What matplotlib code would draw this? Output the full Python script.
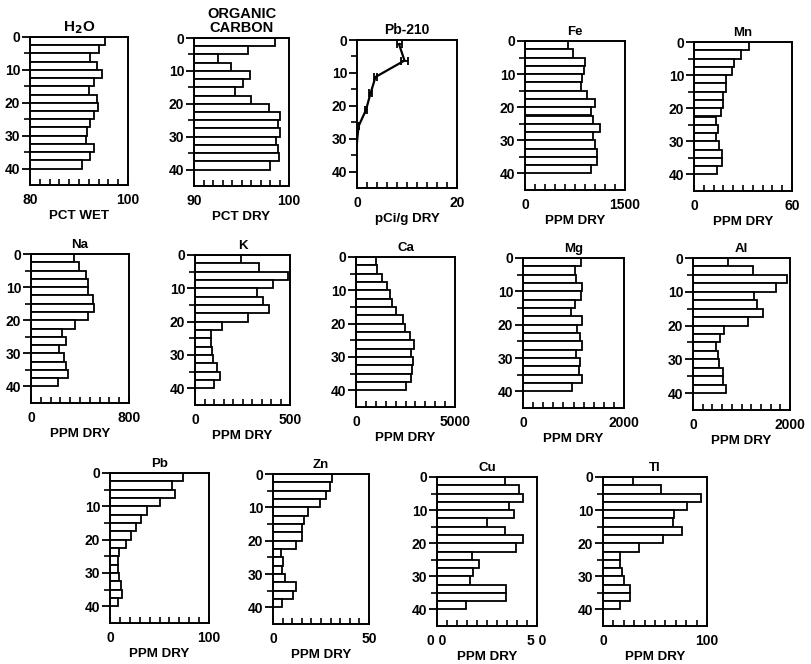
import matplotlib
matplotlib.use('Agg')
import matplotlib.pyplot as plt
from matplotlib.ticker import FixedLocator

plt.rcParams['font.family'] = ['Liberation Sans', 'DejaVu Sans']
plt.rcParams['font.weight'] = 'bold'

# ---------------- data ----------------
depth_top = [0.0, 2.5, 5.0, 7.5, 10.0, 12.5, 15.0, 17.5,
             20.0, 22.5, 25.0, 27.5, 30.0, 32.5, 35.0, 37.5]

h2o = [95.3, 94.1, 92.3, 93.6, 94.6, 93.1, 92.1, 93.6,
       93.8, 93.0, 92.2, 91.7, 91.5, 93.0, 92.2, 90.7]
organic_carbon = [98.5, 95.7, 92.5, 93.9, 95.9, 95.2, 94.3, 96.0,
                  97.9, 99.1, 98.8, 99.0, 98.6, 98.8, 98.9, 98.0]
fe = [640, 715, 900, 890, 850, 840, 935, 1050,
      990, 1025, 1125, 1025, 1050, 1085, 1075, 990]
mn = [33.7, 28.5, 24.6, 23.4, 19.5, 19.3, 17.9, 17.5,
      16.3, 13.2, 14.4, 13.2, 15.2, 17.2, 17.2, 13.8]
na = [351, 395, 449, 468, 462, 508, 516, 468,
      360, 257, 284, 232, 273, 287, 305, 224]
k = [240, 339, 488, 409, 328, 360, 388, 281,
     144, 82, 82, 88, 96, 118, 132, 102]
ca = [1010, 1078, 1330, 1583, 1718, 1835, 2004, 2391,
      2475, 2728, 2947, 2762, 2897, 2846, 2762, 2509]
mg = [1139, 1026, 1046, 1159, 1145, 1026, 947, 1159,
      1079, 1125, 1172, 1046, 1125, 1112, 1159, 973]
al = [712, 1233, 1932, 1712, 1260, 1315, 1438, 1144,
      644, 548, 480, 507, 541, 610, 617, 685]
pb = [74, 63, 66, 51, 37, 31, 26, 21,
      16, 9, 8, 8, 9, 11, 12, 8]
zn = [30.7, 29.5, 27.4, 24.7, 18.2, 16.0, 15.3, 15.1,
      12.2, 4.0, 5.2, 4.9, 6.1, 12.2, 10.4, 4.9]
cu = [33.8, 41.2, 43.0, 35.8, 38.7, 25.0, 33.8, 42.8,
      39.5, 17.5, 21.2, 17.8, 16.3, 34.5, 34.5, 14.7]
tl = [29.3, 55.4, 94.0, 80.3, 68.2, 66.9, 76.4, 58.0,
      35.0, 16.6, 15.9, 18.2, 20.4, 25.5, 25.5, 16.6]

pb210_depth = [1.25, 6.25, 11.25, 16.25, 21.25, 26.25, 31.0]
pb210_value = [8.4, 9.5, 3.7, 2.7, 1.8, 0.3, 0.0]
pb210_err = [0.5, 0.7, 0.3, 0.25, 0.2, 0.0, 0.0]

# ---------------- layout ----------------
W, H = 811, 664
fig = plt.figure(figsize=(W / 100, H / 100), dpi=100)
fig.patch.set_facecolor('white')

TICK_FS = 10
LABEL_FS = 9.6
TITLE_FS = 9.5


def make_axes(box):
    l, r, t, b = box
    return fig.add_axes([l / W, 1 - b / H, (r - l) / W, (b - t) / H])


def style(ax, xmin, xmax, lab_l, lab_r, xlabel, title, title_fs=TITLE_FS):
    ax.set_ylim(45, 0)
    ax.set_xlim(xmin, xmax)
    for s in ax.spines.values():
        s.set_linewidth(1.4)
    ax.yaxis.set_major_locator(FixedLocator([0, 10, 20, 30, 40]))
    ax.yaxis.set_minor_locator(FixedLocator([5, 15, 25, 35]))
    ax.set_yticklabels(['0', '10', '20', '30', '40'], fontsize=TICK_FS,
                       fontweight='bold')
    ax.tick_params(axis='y', which='major', direction='out', length=6,
                   width=1.3, pad=1)
    ax.tick_params(axis='y', which='minor', direction='out', length=4,
                   width=1.2)
    step = (xmax - xmin) / 10.0
    ticks = [xmin + i * step for i in range(11)]
    ax.xaxis.set_major_locator(FixedLocator(ticks))
    ax.set_xticklabels([lab_l] + [''] * 9 + [lab_r], fontsize=TICK_FS,
                       fontweight='bold')
    ax.tick_params(axis='x', which='major', direction='in', length=4,
                   width=1.2, pad=6)
    ax.set_xlabel(xlabel, fontsize=LABEL_FS, fontweight='bold', labelpad=2)
    ax.set_title(title, fontsize=title_fs, fontweight='bold', pad=4,
                 linespacing=1.05)


def bars(ax, values, xmin):
    widths = [v - xmin for v in values]
    ax.barh(depth_top, widths, height=2.5, left=xmin, align='edge',
            color='white', edgecolor='black', linewidth=1.3)


panels = [
    ('H$_2$O', h2o, 80, 100, '80', '100', 'PCT WET', (30, 128, 37, 185), 11),
    ('ORGANIC\nCARBON', organic_carbon, 90, 100, '90', '100', 'PCT DRY',
     (194, 289, 38, 186), 10.5),
    ('Fe', fe, 0, 1500, '0', '1500', 'PPM DRY', (525, 625, 41, 190), TITLE_FS),
    ('Mn', mn, 0, 60, '0', '60', 'PPM DRY', (694, 792, 42, 191), TITLE_FS),
    ('Na', na, 0, 800, '0', '800', 'PPM DRY', (31, 129, 254, 403), TITLE_FS),
    ('K', k, 0, 500, '0', '500', 'PPM DRY', (195, 290, 255, 405), TITLE_FS),
    ('Ca', ca, 0, 5000, '0', '5000', 'PPM DRY', (356, 455, 257, 407), TITLE_FS),
    ('Mg', mg, 0, 2000, '0', '2000', 'PPM DRY', (523, 624, 258, 408), TITLE_FS),
    ('Al', al, 0, 2000, '0', '2000', 'PPM DRY', (693, 790, 258, 410), TITLE_FS),
    ('Pb', pb, 0, 100, '0', '100', 'PPM DRY', (110, 209, 473, 623), TITLE_FS),
    ('Zn', zn, 0, 50, '0', '50', 'PPM DRY', (273, 369, 474, 624), TITLE_FS),
    ('Cu', cu, 0, 50, '0 0', '5 0', 'PPM DRY', (437, 537, 477, 626), TITLE_FS),
    ('Tl', tl, 0, 100, '0', '100', 'PPM DRY', (603, 707, 477, 626), TITLE_FS),
]

for title, vals, xmin, xmax, ll, lr, xl, box, tfs in panels:
    ax = make_axes(box)
    bars(ax, vals, xmin)
    style(ax, xmin, xmax, ll, lr, xl, title, tfs)

# Pb-210 panel
ax = make_axes((357, 457, 40, 188))
ax.errorbar(pb210_value, pb210_depth, xerr=pb210_err, fmt='-', color='black',
            linewidth=1.6, elinewidth=1.3, capsize=3, capthick=1.3)
style(ax, 0, 20, '0', '20', 'pCi/g DRY', 'Pb-210', 10)

fig.savefig('out.png', dpi=100, facecolor='white')
